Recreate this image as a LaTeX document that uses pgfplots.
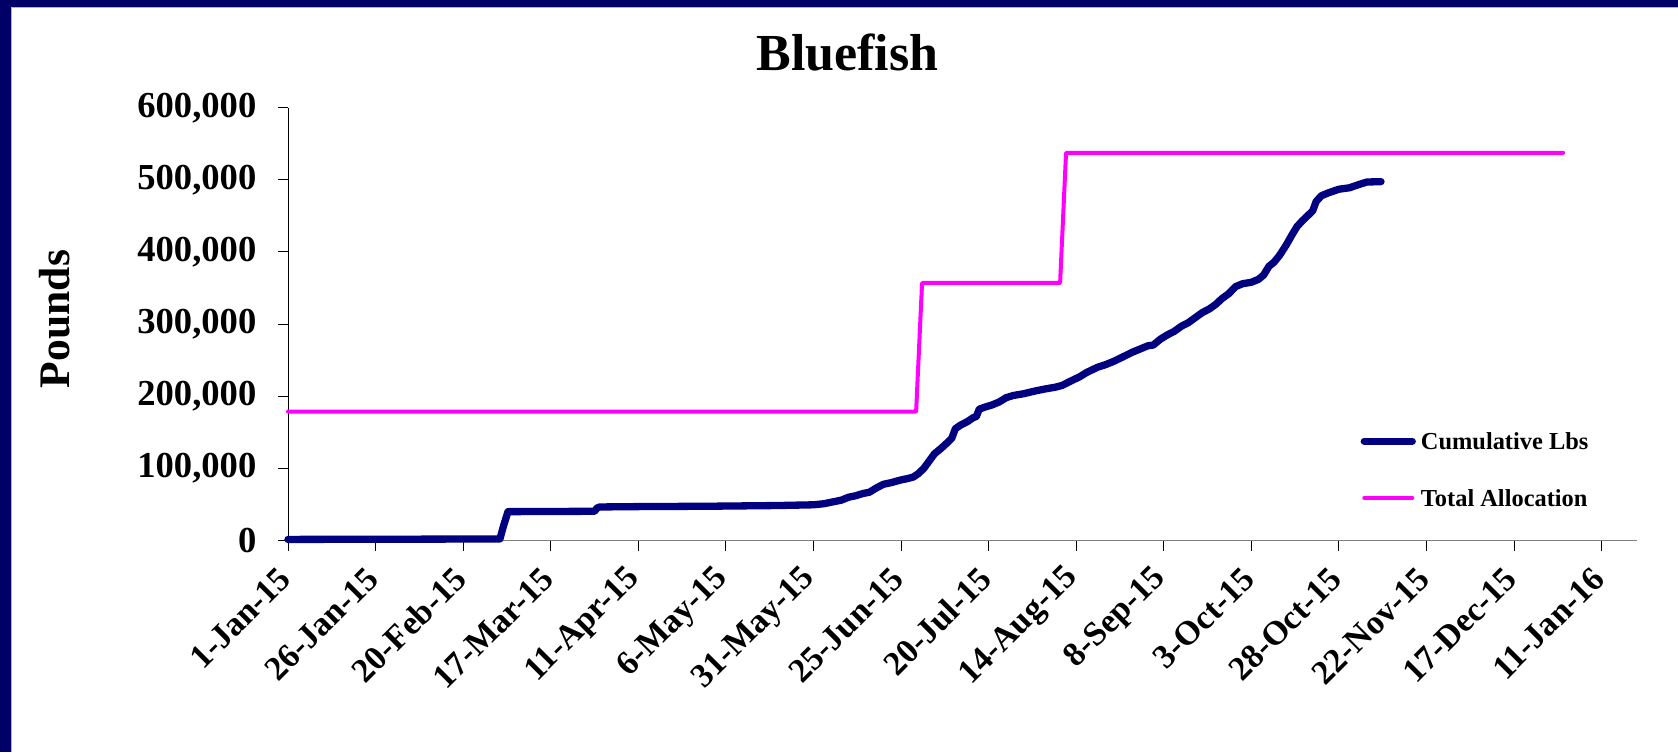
\documentclass[border=0pt]{standalone}
\usepackage{fontspec}
\setmainfont{Liberation Serif}
\usepackage{pgfplots}
\pgfplotsset{compat=1.18}
\definecolor{framenavy}{RGB}{0,0,102}
\definecolor{cumnavy}{RGB}{0,0,128}
\definecolor{allocmag}{RGB}{255,0,255}

\pgfplotstableread{
day value
0 1500
10 1600
30 1800
50 2000
60.5 2200
61.5 20000
62.8 40000
87.5 40500
88.2 45000
89 46500
100 47000
120 47500
140 48500
150 49500
153 51000
156 54000
158 56000
160 60000
162 62000
164 65000
166 67000
168 73000
170 78000
172 80000
175 84000
177 86000
178.5 88000
180 93000
181.5 100000
183 110000
184.5 120000
186.5 128000
188.5 137000
189.5 142000
190.5 155000
192 160000
194 165000
195.5 170000
196.5 172000
197.3 182000
199 185000
201 188000
203 192000
205 198000
207 201000
210 203500
213 207000
216 210000
219 212500
221 215000
223 220000
226 227000
228 233000
231 240000
233.5 244000
236 249000
238.5 255000
241 261000
243.5 266000
245.5 270000
247 271000
249 279000
251 285000
253 290000
255 297000
257 302000
259 309000
261 316000
263 321000
265 328000
266.5 335000
268.5 342000
270.5 352000
272.5 356000
275 358000
277 362000
278.5 368000
280 380000
281.5 386000
283 395000
285 410000
286.5 423000
288 435000
289.5 443000
291 450000
292.5 457000
293.5 470000
295 478000
297 482000
300 487000
303 489000
306 494000
308 497000
312 497500
}\cumtable

\pgfplotstableread{
day value
0 178700
179.3 178700
181 357000
220.4 357000
222.1 537500
364 537500
}\alloctable

\begin{document}
\begin{tikzpicture}
\useasboundingbox (0,0) rectangle (839pt,376pt);
\fill[white] (0,0) rectangle (839pt,376pt);
\fill[framenavy] (0,372.4pt) rectangle (839pt,376pt);
\fill[framenavy] (0,0) rectangle (5.9pt,376pt);
\draw[gray!60, line width=0.4pt] (5.9pt,0) -- (5.9pt,372.4pt) -- (839pt,372.4pt);

\node[anchor=base, font=\fontsize{26}{30}\selectfont\bfseries] at (423.75pt,341pt) {Bluefish};
\node[rotate=90, anchor=base, font=\fontsize{21.8}{26}\selectfont\bfseries] at (35pt,216.5pt) {Pounds};

\begin{axis}[
  at={(144pt,105.75pt)}, anchor=south west,
  scale only axis, width=674.35pt, height=216.4pt,
  xmin=0, xmax=385, ymin=0, ymax=600000,
  axis x line=bottom, axis y line=left,
  axis line style={-},
  x axis line style={draw=gray, line width=0.85pt},
  y axis line style={draw=black, line width=0.5pt},
  tick align=outside, major tick length=5pt,
  tick style={black, line width=0.5pt},
  xtick={0,25,...,375},
  xticklabels={1-Jan-15,26-Jan-15,20-Feb-15,17-Mar-15,11-Apr-15,6-May-15,31-May-15,25-Jun-15,20-Jul-15,14-Aug-15,8-Sep-15,3-Oct-15,28-Oct-15,22-Nov-15,17-Dec-15,11-Jan-16},
  ytick={0,100000,...,600000},
  scaled y ticks=false,
  /pgf/number format/.cd, fixed, 1000 sep={,}, assume math mode=true, /pgfplots/.cd,
  yticklabel style={font=\fontsize{18.3}{20}\selectfont\bfseries},
  xticklabel style={font=\fontsize{17}{19}\selectfont\bfseries, rotate=45, anchor=east, inner sep=2pt},
  xticklabel shift=10pt,
  yticklabel shift=7.3pt,
  clip=false,
  legend cell align=left,
  legend image code/.code={\draw[#1] (0pt,0pt) -- (24pt,0pt);},
  legend style={draw=none, fill=none, at={(0.795,0.2546)}, anchor=north west,
    font=\fontsize{12.2}{14}\selectfont\bfseries,
    nodes={inner sep=1pt, text height=8.5pt, text depth=0pt},
    row sep=17.8pt, column sep=1.5pt, inner sep=0pt},
]
\addplot[cumnavy, line width=3.65pt, line cap=round, line join=round] table[x=day, y=value] {\cumtable};
\addlegendentry{Cumulative Lbs}
\addplot[allocmag, line width=2pt, line cap=round, line join=round] table[x=day, y=value] {\alloctable};
\addlegendentry{Total Allocation}
\end{axis}
\end{tikzpicture}
\end{document}
